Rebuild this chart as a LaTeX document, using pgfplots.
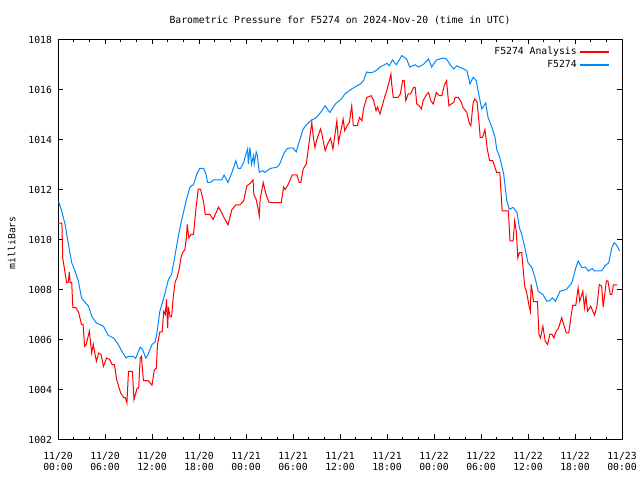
\documentclass[border=0pt]{standalone}
\usepackage{pgfplots}
\pgfplotsset{compat=1.18}
\usepackage{fontspec}
\setmainfont{DejaVu Sans Mono}
\definecolor{serred}{RGB}{255,0,0}
\definecolor{serblue}{RGB}{0,136,255}
\newcommand{\fsz}{\fontsize{9.8}{11.6}\selectfont}
\begin{document}
\begin{tikzpicture}[font=\fsz]
\useasboundingbox (-58bp,-40.5bp) rectangle (582bp,439.5bp);
\begin{axis}[
  scale only axis,
  width=564bp, height=400bp,
  xmin=0, xmax=72, ymin=1002, ymax=1018,
  xtick={0,6,...,72},
  xticklabels={11/20\\00:00,11/20\\06:00,11/20\\12:00,11/20\\18:00,11/21\\00:00,11/21\\06:00,11/21\\12:00,11/21\\18:00,11/22\\00:00,11/22\\06:00,11/22\\12:00,11/22\\18:00,11/23\\00:00},
  xticklabel style={align=center, yshift=-9bp},
  minor x tick num=2,
  ytick={1002,1004,...,1018},
  yticklabel style={/pgf/number format/1000 sep={}, xshift=-2.5bp},
  /pgf/number format/assume math mode=true,
  tick align=inside,
  major tick length=5bp, minor tick length=3bp,
  tick style={black, line width=0.8bp},
  axis line style={line width=0.9bp},
  title={Barometric Pressure for F5274 on 2024-Nov-20 (time in UTC)},
  title style={at={(axis description cs:0.5,1.0326)}, anchor=center},
  ylabel={milliBars},
  ylabel style={at={(axis description cs:-0.082,0.492)}, anchor=center},
  legend plot pos=right,
  legend cell align=right,
  legend style={draw=white, fill=white, at={(axis description cs:0.978,0.986)}, anchor=north east, inner sep=0pt, row sep=0.4bp, font=\fsz},
]
\addplot[color=serred, line width=1bp,
  legend image code/.code={\draw[draw=serred, line width=1.7bp] (0bp,0bp) -- (29bp,0bp);}] coordinates {
(0,1010.65) (0.5,1010.65) (0.6,1009.27) (0.9,1008.67) (1.1,1008.27) (1.3,1008.27) (1.45,1008.7) (1.55,1008.27) (1.75,1008.27) (1.9,1007.27) (2.3,1007.27) (2.65,1007.07) (3.0,1006.6) (3.2,1006.6) (3.4,1005.73) (3.6,1005.8) (4.0,1006.33) (4.3,1005.46) (4.5,1005.8) (4.9,1005.13) (5.2,1005.46) (5.5,1005.4) (5.8,1004.93) (6.2,1005.26) (6.6,1005.2) (6.9,1005.0) (7.2,1005.0) (7.5,1004.39) (8.0,1003.86) (8.4,1003.68) (8.6,1003.68) (8.8,1003.46) (9.0,1004.73) (9.5,1004.73) (9.7,1003.59) (10.1,1004.06) (10.3,1004.06) (10.5,1005.26) (10.65,1005.33) (10.9,1004.36) (11.5,1004.36) (12.0,1004.17) (12.3,1004.79) (12.55,1004.85) (12.7,1005.8) (13.0,1006.3) (13.3,1006.3) (13.5,1007.13) (13.7,1007.0) (13.85,1007.6) (14.0,1006.46) (14.1,1007.3) (14.3,1006.9) (14.5,1006.9) (14.7,1007.67) (14.95,1008.3) (15.2,1008.47) (15.5,1008.87) (15.7,1009.27) (15.9,1009.47) (16.2,1009.6) (16.4,1010.1) (16.5,1010.6) (16.7,1010.07) (17.0,1010.2) (17.3,1010.2) (17.6,1011.2) (17.9,1012.01) (18.2,1012.01) (18.6,1011.47) (18.8,1011.0) (19.4,1011.0) (19.8,1010.8) (20.5,1011.3) (20.9,1011.07) (21.2,1010.87) (21.7,1010.58) (22.2,1011.2) (22.7,1011.38) (23.2,1011.38) (23.7,1011.54) (24.1,1012.14) (24.5,1012.24) (24.9,1012.38) (25.0,1011.8) (25.3,1011.6) (25.6,1011.14) (25.7,1010.94) (25.8,1011.6) (26.2,1012.28) (26.5,1011.87) (26.9,1011.5) (27.4,1011.47) (28.5,1011.47) (28.8,1012.1) (29.0,1012.0) (29.4,1012.21) (29.9,1012.58) (30.5,1012.58) (30.8,1012.28) (31.0,1012.28) (31.3,1012.82) (31.7,1013.02) (32.0,1013.75) (32.4,1014.68) (32.6,1014.08) (32.8,1013.68) (33.0,1013.95) (33.5,1014.42) (33.7,1014.2) (34.1,1013.55) (34.5,1013.88) (34.8,1014.05) (35.1,1013.62) (35.6,1014.75) (35.8,1013.88) (36.2,1014.48) (36.4,1014.82) (36.6,1014.35) (36.9,1014.55) (37.2,1014.68) (37.4,1015.15) (37.5,1015.35) (37.7,1014.55) (38.2,1014.55) (38.5,1014.88) (38.8,1014.75) (39.0,1015.22) (39.4,1015.68) (40.0,1015.75) (40.3,1015.55) (40.6,1015.15) (40.8,1015.3) (41.1,1015.02) (41.4,1015.35) (41.7,1015.7) (41.9,1015.88) (42.3,1016.35) (42.5,1016.62) (42.6,1016.22) (42.8,1015.68) (43.4,1015.68) (43.7,1015.82) (44.0,1016.35) (44.2,1016.35) (44.4,1015.55) (44.7,1015.82) (45.0,1015.82) (45.4,1016.08) (45.6,1016.08) (45.8,1015.42) (46.1,1015.35) (46.4,1015.22) (46.6,1015.55) (47.1,1015.82) (47.3,1015.88) (47.6,1015.55) (47.9,1015.42) (48.3,1015.88) (48.7,1015.75) (49.0,1015.75) (49.3,1016.15) (49.6,1016.35) (49.9,1015.35) (50.2,1015.42) (50.5,1015.48) (50.7,1015.68) (51.1,1015.68) (51.5,1015.48) (51.7,1015.28) (52.2,1015.08) (52.5,1014.65) (52.7,1014.55) (53.0,1015.48) (53.2,1015.62) (53.5,1015.5) (53.7,1014.85) (53.9,1014.08) (54.2,1014.08) (54.5,1014.4) (54.8,1013.62) (55.1,1013.15) (55.5,1013.15) (56.0,1012.68) (56.4,1012.68) (56.7,1011.14) (57.5,1011.14) (57.7,1009.94) (58.1,1009.94) (58.3,1010.74) (58.5,1010.34) (58.7,1009.27) (58.9,1009.47) (59.2,1009.47) (59.4,1008.74) (59.6,1008.07) (59.8,1007.93) (60.1,1007.4) (60.3,1007.13) (60.4,1008.2) (60.6,1007.8) (60.7,1007.51) (61.2,1007.51) (61.4,1006.2) (61.6,1006.06) (61.9,1006.53) (62.2,1005.93) (62.5,1005.8) (62.8,1006.22) (63.1,1006.2) (63.3,1006.06) (63.6,1006.33) (63.9,1006.46) (64.3,1006.87) (64.7,1006.46) (64.9,1006.26) (65.2,1006.26) (65.5,1006.93) (65.7,1007.36) (66.1,1007.36) (66.4,1008.07) (66.6,1007.53) (67.0,1007.93) (67.2,1007.27) (67.4,1007.73) (67.6,1007.13) (68.0,1007.33) (68.5,1006.97) (68.8,1007.33) (69.1,1008.2) (69.4,1008.13) (69.6,1007.3) (70.0,1008.34) (70.2,1008.34) (70.5,1007.8) (70.7,1007.8) (70.9,1008.18) (71.4,1008.18)
};
\addlegendentry{F5274 Analysis}
\addplot[color=serblue, line width=1bp,
  legend image code/.code={\draw[draw=serblue, line width=1.5bp] (0bp,0bp) -- (29bp,0bp);}] coordinates {
(0,1011.5) (0.13,1011.47) (0.47,1011.14) (0.9,1010.61) (1.3,1009.87) (1.75,1009.07) (2.17,1008.74) (2.6,1008.34) (3.0,1007.67) (3.4,1007.5) (3.9,1007.33) (4.3,1006.93) (4.9,1006.66) (5.8,1006.53) (6.4,1006.17) (7.1,1006.06) (7.7,1005.8) (8.2,1005.5) (8.7,1005.26) (9.0,1005.33) (9.6,1005.33) (9.9,1005.24) (10.5,1005.7) (10.8,1005.6) (11.2,1005.26) (11.5,1005.4) (12.0,1005.8) (12.4,1005.9) (12.6,1006.2) (13.0,1007.13) (13.45,1007.6) (14.1,1008.4) (14.5,1008.6) (14.9,1009.3) (15.4,1010.2) (15.8,1010.8) (16.4,1011.6) (16.85,1012.1) (17.3,1012.2) (17.7,1012.6) (18.1,1012.84) (18.6,1012.84) (18.9,1012.6) (19.1,1012.28) (19.5,1012.28) (19.8,1012.38) (20.9,1012.38) (21.2,1012.58) (21.4,1012.47) (21.7,1012.28) (22.2,1012.68) (22.7,1013.15) (23.0,1012.84) (23.3,1012.84) (23.7,1013.08) (24.0,1013.42) (24.2,1013.62) (24.3,1013.02) (24.5,1013.68) (24.7,1013.02) (24.95,1013.35) (25.05,1013.02) (25.3,1013.5) (25.45,1013.35) (25.7,1012.68) (26.1,1012.75) (26.4,1012.68) (27.1,1012.84) (28.0,1012.9) (28.3,1013.02) (28.8,1013.42) (29.2,1013.62) (29.6,1013.66) (30.0,1013.66) (30.4,1013.5) (30.7,1013.82) (30.9,1014.02) (31.3,1014.42) (31.75,1014.6) (32.4,1014.78) (33.0,1014.88) (33.7,1015.15) (34.1,1015.35) (34.7,1015.08) (35.4,1015.42) (36.2,1015.62) (36.6,1015.82) (37.3,1015.98) (37.9,1016.1) (38.6,1016.22) (39.0,1016.35) (39.4,1016.7) (39.8,1016.67) (40.3,1016.7) (40.7,1016.78) (41.1,1016.9) (41.7,1016.99) (42.0,1017.05) (42.3,1016.95) (42.7,1017.18) (43.2,1016.99) (43.9,1017.36) (44.5,1017.22) (44.9,1016.9) (45.6,1016.99) (46.0,1016.9) (46.6,1016.99) (47.3,1017.22) (47.7,1016.9) (48.3,1017.18) (49.2,1017.26) (49.6,1017.22) (50.0,1017.02) (50.5,1016.82) (50.9,1016.95) (51.3,1016.89) (52.2,1016.76) (52.6,1016.22) (53.0,1016.49) (53.4,1016.35) (53.7,1015.82) (54.1,1015.22) (54.6,1015.46) (54.9,1014.88) (55.4,1014.48) (55.8,1014.08) (56.0,1013.61) (56.4,1013.28) (56.9,1012.61) (57.3,1011.54) (57.6,1011.21) (58.1,1011.28) (58.6,1011.08) (58.9,1010.47) (59.2,1010.21) (59.6,1009.67) (60.0,1009.07) (60.5,1008.87) (60.9,1008.47) (61.3,1007.93) (61.9,1007.8) (62.4,1007.53) (62.8,1007.56) (63.1,1007.67) (63.5,1007.53) (64.1,1007.93) (64.9,1008.0) (65.6,1008.27) (66.1,1008.87) (66.4,1009.14) (66.9,1008.87) (67.3,1008.9) (67.7,1008.74) (68.2,1008.84) (68.5,1008.74) (69.4,1008.74) (69.8,1008.94) (70.3,1009.07) (70.7,1009.67) (71.0,1009.87) (71.3,1009.78) (71.7,1009.54)
};
\addlegendentry{F5274}
\end{axis}
\end{tikzpicture}
\end{document}
